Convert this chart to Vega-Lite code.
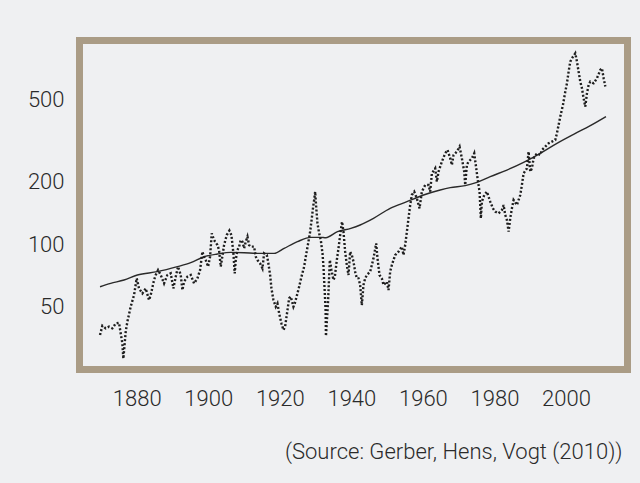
{
  "$schema": "https://vega.github.io/schema/vega-lite/v6.json",
  "width": 548,
  "height": 329,
  "autosize": {"type": "none"},
  "padding": {"left": 79.5, "top": 40.5, "right": 12.5, "bottom": 113.5},
  "background": "#eff0f2",
  "config": {
    "view": {"stroke": "#aa9c86", "strokeWidth": 7, "fill": "#eff0f2"},
    "font": "Roboto",
    "axis": {"labelFont": "Roboto", "labelFontWeight": 300, "labelColor": "#2a2a2a", "labelFontSize": 22, "ticks": false, "tickSize": 0, "domain": false, "grid": false, "title": null}
  },
  "title": {"text": "(Source: Gerber, Hens, Vogt (2010))", "orient": "bottom", "anchor": "end", "font": "Roboto", "fontWeight": 300, "fontSize": 22, "color": "#2a2a2a", "offset": 32, "dx": -5},
  "datasets": {
    "index": [
      {"year": 1869.74, "value": 35.0}, {"year": 1870.39, "value": 38.8}, {"year": 1871.32, "value": 37.7}, {"year": 1872.25, "value": 38.4}, {"year": 1873.19, "value": 37.7}, {"year": 1874.12, "value": 39.8}, {"year": 1875.05, "value": 40.1}, {"year": 1875.52, "value": 35.6}, {"year": 1875.98, "value": 31.9}, {"year": 1876.26, "value": 26.9}, {"year": 1876.92, "value": 36.3}, {"year": 1877.38, "value": 40.6}, {"year": 1878.31, "value": 48.0}, {"year": 1879.25, "value": 54.7}, {"year": 1879.99, "value": 65.9}, {"year": 1880.64, "value": 58.9}, {"year": 1881.58, "value": 55.7}, {"year": 1882.51, "value": 58.9}, {"year": 1883.44, "value": 51.7}, {"year": 1883.91, "value": 54.7}, {"year": 1884.84, "value": 64.7}, {"year": 1885.31, "value": 68.4}, {"year": 1885.96, "value": 72.3}, {"year": 1886.71, "value": 68.4}, {"year": 1887.64, "value": 62.3}, {"year": 1888.57, "value": 68.4}, {"year": 1889.50, "value": 69.7}, {"year": 1890.25, "value": 58.9}, {"year": 1890.90, "value": 67.1}, {"year": 1891.55, "value": 75.1}, {"year": 1892.30, "value": 68.4}, {"year": 1892.77, "value": 57.8}, {"year": 1893.23, "value": 63.5}, {"year": 1894.16, "value": 67.1}, {"year": 1895.10, "value": 68.4}, {"year": 1896.03, "value": 62.3}, {"year": 1896.96, "value": 65.9}, {"year": 1897.71, "value": 72.3}, {"year": 1898.36, "value": 88.8}, {"year": 1898.83, "value": 83.9}, {"year": 1899.29, "value": 80.9}, {"year": 1899.95, "value": 75.1}, {"year": 1900.50, "value": 83.9}, {"year": 1900.97, "value": 108.9}, {"year": 1901.62, "value": 101.1}, {"year": 1902.56, "value": 95.6}, {"year": 1903.02, "value": 90.4}, {"year": 1903.49, "value": 75.1}, {"year": 1904.42, "value": 95.6}, {"year": 1905.17, "value": 106.9}, {"year": 1905.91, "value": 112.3}, {"year": 1906.47, "value": 106.9}, {"year": 1907.03, "value": 87.1}, {"year": 1907.40, "value": 69.7}, {"year": 1907.68, "value": 80.9}, {"year": 1908.15, "value": 90.4}, {"year": 1908.62, "value": 93.9}, {"year": 1909.08, "value": 101.1}, {"year": 1909.55, "value": 99.3}, {"year": 1910.02, "value": 92.1}, {"year": 1910.48, "value": 99.3}, {"year": 1910.95, "value": 105.0}, {"year": 1911.41, "value": 95.6}, {"year": 1911.88, "value": 93.9}, {"year": 1912.81, "value": 93.9}, {"year": 1913.28, "value": 83.9}, {"year": 1913.74, "value": 80.9}, {"year": 1914.49, "value": 77.9}, {"year": 1915.14, "value": 73.7}, {"year": 1915.61, "value": 87.1}, {"year": 1916.36, "value": 85.5}, {"year": 1916.73, "value": 79.4}, {"year": 1917.29, "value": 68.4}, {"year": 1917.66, "value": 58.9}, {"year": 1918.22, "value": 51.7}, {"year": 1918.87, "value": 48.0}, {"year": 1919.34, "value": 49.8}, {"year": 1919.81, "value": 44.6}, {"year": 1920.46, "value": 39.8}, {"year": 1921.02, "value": 37.0}, {"year": 1921.48, "value": 38.4}, {"year": 1922.14, "value": 46.2}, {"year": 1922.60, "value": 52.7}, {"year": 1923.07, "value": 53.7}, {"year": 1923.81, "value": 48.0}, {"year": 1924.19, "value": 49.8}, {"year": 1924.93, "value": 55.7}, {"year": 1925.40, "value": 60.0}, {"year": 1926.05, "value": 67.1}, {"year": 1926.80, "value": 75.1}, {"year": 1927.26, "value": 83.9}, {"year": 1927.92, "value": 97.4}, {"year": 1928.48, "value": 111.0}, {"year": 1928.94, "value": 128.8}, {"year": 1929.32, "value": 146.8}, {"year": 1929.60, "value": 158.1}, {"year": 1929.88, "value": 173.6}, {"year": 1930.16, "value": 146.8}, {"year": 1930.53, "value": 121.8}, {"year": 1931.00, "value": 108.9}, {"year": 1931.46, "value": 101.1}, {"year": 1931.93, "value": 87.1}, {"year": 1932.21, "value": 75.1}, {"year": 1932.39, "value": 64.7}, {"year": 1932.58, "value": 55.7}, {"year": 1932.80, "value": 46.2}, {"year": 1932.90, "value": 34.6}, {"year": 1933.51, "value": 51.7}, {"year": 1933.98, "value": 80.9}, {"year": 1934.44, "value": 72.3}, {"year": 1935.00, "value": 64.7}, {"year": 1935.38, "value": 67.1}, {"year": 1935.94, "value": 80.9}, {"year": 1936.40, "value": 92.1}, {"year": 1936.87, "value": 106.9}, {"year": 1937.40, "value": 124.1}, {"year": 1937.80, "value": 111.0}, {"year": 1938.27, "value": 88.8}, {"year": 1938.73, "value": 76.5}, {"year": 1939.20, "value": 68.4}, {"year": 1939.66, "value": 88.8}, {"year": 1940.13, "value": 85.5}, {"year": 1940.60, "value": 79.4}, {"year": 1941.06, "value": 71.0}, {"year": 1941.53, "value": 65.9}, {"year": 1942.00, "value": 65.9}, {"year": 1942.46, "value": 61.2}, {"year": 1942.93, "value": 48.9}, {"year": 1943.39, "value": 61.2}, {"year": 1943.86, "value": 65.9}, {"year": 1944.33, "value": 68.4}, {"year": 1945.26, "value": 71.0}, {"year": 1946.19, "value": 82.4}, {"year": 1946.94, "value": 97.4}, {"year": 1947.31, "value": 82.4}, {"year": 1947.87, "value": 68.4}, {"year": 1948.52, "value": 65.9}, {"year": 1948.99, "value": 61.2}, {"year": 1949.92, "value": 63.5}, {"year": 1950.39, "value": 57.8}, {"year": 1950.85, "value": 71.0}, {"year": 1951.32, "value": 76.5}, {"year": 1952.25, "value": 85.5}, {"year": 1953.18, "value": 88.8}, {"year": 1954.12, "value": 93.9}, {"year": 1954.58, "value": 85.5}, {"year": 1955.05, "value": 95.6}, {"year": 1955.52, "value": 111.0}, {"year": 1955.98, "value": 128.9}, {"year": 1956.45, "value": 149.5}, {"year": 1956.91, "value": 167.2}, {"year": 1957.57, "value": 173.6}, {"year": 1958.31, "value": 161.1}, {"year": 1959.06, "value": 144.1}, {"year": 1959.71, "value": 173.6}, {"year": 1960.64, "value": 187.0}, {"year": 1961.58, "value": 187.0}, {"year": 1962.04, "value": 173.6}, {"year": 1962.51, "value": 213.1}, {"year": 1963.44, "value": 225.3}, {"year": 1963.91, "value": 194.1}, {"year": 1964.37, "value": 217.1}, {"year": 1965.31, "value": 242.8}, {"year": 1966.24, "value": 266.5}, {"year": 1966.89, "value": 276.6}, {"year": 1967.64, "value": 251.9}, {"year": 1968.10, "value": 233.9}, {"year": 1968.57, "value": 261.6}, {"year": 1969.50, "value": 271.5}, {"year": 1970.25, "value": 287.1}, {"year": 1970.90, "value": 251.9}, {"year": 1971.55, "value": 217.1}, {"year": 1971.83, "value": 187.0}, {"year": 1972.30, "value": 233.9}, {"year": 1972.76, "value": 242.8}, {"year": 1973.70, "value": 251.9}, {"year": 1974.35, "value": 266.5}, {"year": 1974.91, "value": 225.3}, {"year": 1975.28, "value": 201.5}, {"year": 1975.84, "value": 173.6}, {"year": 1976.21, "value": 128.9}, {"year": 1976.49, "value": 155.2}, {"year": 1977.15, "value": 167.2}, {"year": 1977.89, "value": 173.6}, {"year": 1978.83, "value": 155.2}, {"year": 1979.57, "value": 144.1}, {"year": 1980.22, "value": 138.8}, {"year": 1981.16, "value": 136.2}, {"year": 1982.09, "value": 141.4}, {"year": 1982.56, "value": 149.5}, {"year": 1983.02, "value": 133.8}, {"year": 1983.49, "value": 126.5}, {"year": 1983.96, "value": 111.0}, {"year": 1984.42, "value": 128.9}, {"year": 1984.89, "value": 144.1}, {"year": 1985.35, "value": 158.1}, {"year": 1986.28, "value": 149.5}, {"year": 1987.22, "value": 167.2}, {"year": 1987.68, "value": 187.0}, {"year": 1988.15, "value": 213.1}, {"year": 1989.08, "value": 225.3}, {"year": 1989.55, "value": 271.5}, {"year": 1990.01, "value": 217.1}, {"year": 1990.48, "value": 225.3}, {"year": 1990.95, "value": 251.9}, {"year": 1991.88, "value": 266.5}, {"year": 1992.81, "value": 261.6}, {"year": 1993.28, "value": 276.6}, {"year": 1994.21, "value": 287.1}, {"year": 1995.14, "value": 298.0}, {"year": 1996.08, "value": 303.6}, {"year": 1997.01, "value": 309.3}, {"year": 1997.47, "value": 333.3}, {"year": 1997.94, "value": 365.8}, {"year": 1998.41, "value": 401.6}, {"year": 1999.15, "value": 457.4}, {"year": 1999.81, "value": 530.9}, {"year": 2000.27, "value": 582.6}, {"year": 2000.74, "value": 663.9}, {"year": 2001.20, "value": 742.3}, {"year": 2001.67, "value": 770.5}, {"year": 2002.60, "value": 814.7}, {"year": 2003.07, "value": 742.3}, {"year": 2003.53, "value": 663.9}, {"year": 2004.00, "value": 593.6}, {"year": 2004.47, "value": 551.0}, {"year": 2004.93, "value": 492.7}, {"year": 2005.40, "value": 448.8}, {"year": 2005.87, "value": 521.2}, {"year": 2006.33, "value": 571.9}, {"year": 2006.80, "value": 593.6}, {"year": 2007.73, "value": 582.6}, {"year": 2008.66, "value": 616.2}, {"year": 2009.60, "value": 676.3}, {"year": 2010.06, "value": 689.1}, {"year": 2010.53, "value": 616.2}, {"year": 2011.00, "value": 561.6}
    ],
    "trend": [
      {"year": 1869.74, "value": 60.0}, {"year": 1872.72, "value": 62.3}, {"year": 1876.45, "value": 64.7}, {"year": 1880.18, "value": 68.4}, {"year": 1885.77, "value": 71.0}, {"year": 1891.37, "value": 75.1}, {"year": 1895.10, "value": 78.5}, {"year": 1898.83, "value": 83.9}, {"year": 1902.56, "value": 86.5}, {"year": 1906.29, "value": 88.1}, {"year": 1910.02, "value": 87.8}, {"year": 1913.74, "value": 87.1}, {"year": 1918.41, "value": 87.1}, {"year": 1921.20, "value": 92.1}, {"year": 1924.93, "value": 99.3}, {"year": 1928.66, "value": 104.2}, {"year": 1931.46, "value": 104.2}, {"year": 1932.86, "value": 103.8}, {"year": 1936.12, "value": 111.0}, {"year": 1939.85, "value": 115.2}, {"year": 1942.46, "value": 119.6}, {"year": 1946.19, "value": 128.9}, {"year": 1950.85, "value": 144.1}, {"year": 1955.52, "value": 155.2}, {"year": 1960.18, "value": 167.2}, {"year": 1964.84, "value": 176.9}, {"year": 1967.64, "value": 181.5}, {"year": 1971.83, "value": 185.7}, {"year": 1975.10, "value": 192.7}, {"year": 1978.83, "value": 205.3}, {"year": 1983.49, "value": 221.1}, {"year": 1988.15, "value": 240.9}, {"year": 1992.81, "value": 266.5}, {"year": 1997.47, "value": 298.0}, {"year": 2002.14, "value": 329.6}, {"year": 2006.80, "value": 363.0}, {"year": 2011.18, "value": 401.6}
    ]
  },
  "encoding": {
    "x": {"field": "year", "type": "quantitative", "scale": {"domain": [1864, 2017.2], "nice": false, "zero": false}, "axis": {"values": [1880, 1900, 1920, 1940, 1960, 1980, 2000], "format": "d", "labelPadding": 19, "labelFlush": false}},
    "y": {"field": "value", "type": "quantitative", "scale": {"type": "log", "domain": [23.8, 940], "nice": false}, "axis": {"values": [50, 100, 200, 500], "format": "d", "labelPadding": 15.5, "labelOffset": 3}}
  },
  "layer": [
    {"data": {"name": "trend"}, "mark": {"type": "line", "color": "#2a2a2a", "strokeWidth": 1.4, "interpolate": "monotone"}},
    {"data": {"name": "index"}, "mark": {"type": "line", "color": "#1e1e1e", "strokeWidth": 2.4, "strokeDash": [2, 2]}}
  ]
}
